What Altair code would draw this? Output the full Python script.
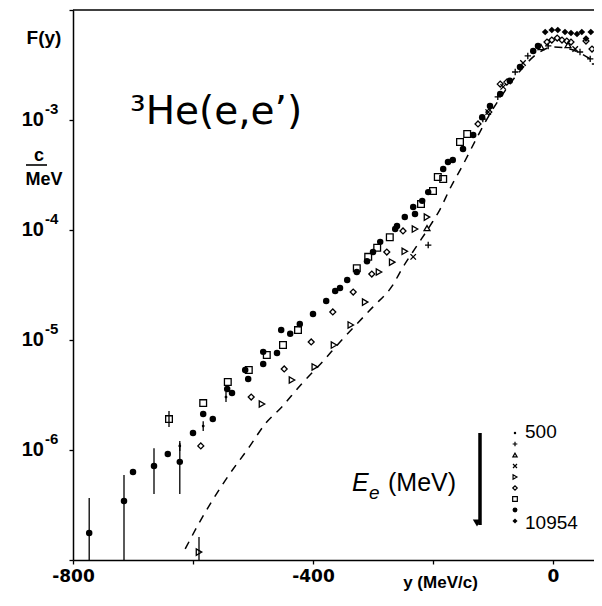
import altair as alt
import pandas as pd

# ---------------- data ----------------
# filled circles
FC_X = [-773, -715, -700, -665, -642, -622, -600, -583, -567, -543, -535, -513, -508, -483, -483,
        -460, -453, -438, -422, -400, -378, -363, -355, -343, -327, -310, -300, -288, -263, -260,
        -247, -233, -230, -218, -208, -183, -175, -167, -150, -133, -118, -105, -88, -72, -55, -33, -25]
FC_Y = [1.76e-7, 3.44e-7, 6.31e-7, 7.16e-7, 9.2e-7, 7.8e-7, 1.43e-6, 2.12e-6, 1.91e-6, 3.59e-6,
        3.30e-6, 5.33e-6, 4.42e-6, 7.8e-6, 6.05e-6, 7.6e-6, 1.23e-5, 1.14e-5, 1.40e-5, 1.72e-5,
        2.26e-5, 2.79e-5, 2.97e-5, 3.51e-5, 4.15e-5, 5.2e-5, 6.3e-5, 7.8e-5, 1.02e-4, 1.09e-4,
        1.31e-4, 1.62e-4, 1.40e-4, 1.84e-4, 2.21e-4, 3.59e-4, 4.15e-4, 4.33e-4, 5.45e-4, 7.31e-4,
        1.06e-3, 1.34e-3, 1.72e-3, 2.27e-3, 3.03e-3, 4.24e-3, 4.71e-3]
# filled diamonds (10954 MeV)
FD_X = [-13, -2, 8, 20, 30, 40, 48, 55, 63, 78]
FD_Y = [6.31e-3, 6.58e-3, 6.58e-3, 6.31e-3, 6.18e-3, 6.05e-3, 6.31e-3, 5.5e-3, 6.31e-3, 7.16e-3]
# open squares
SQ_X = [-640, -583, -542, -507, -477, -450, -425, -327, -308, -293, -272, -220, -200, -192, -183, -155, -143]
SQ_Y = [1.91e-6, 2.67e-6, 4.15e-6, 5.33e-6, 7.3e-6, 9.0e-6, 1.23e-5, 4.5e-5, 5.7e-5, 6.9e-5, 8.6e-5,
        1.72e-4, 2.26e-4, 3.03e-4, 2.91e-4, 6.31e-4, 7.46e-4]
# open diamonds
OD_X = [-587, -503, -448, -403, -367, -333, -302, -277, -250, -125, -107, -88, -77,
        -10, -2, 7, 15, 23, 30, 55, 65, 75]
OD_Y = [1.09e-6, 3.03e-6, 5.45e-6, 9.6e-6, 1.80e-5, 2.73e-5, 3.98e-5, 6.3e-5, 9.8e-5, 9.2e-4, 1.18e-3,
        2.12e-3, 2.21e-3, 5.11e-3, 5.33e-3, 5.56e-3, 5.33e-3, 5.22e-3, 5.11e-3, 5.22e-3, 4.42e-3, 4.15e-3]
# open triangles (pointing right)
TR_X = [-590, -485, -435, -397, -365, -337, -313, -290, -268, -247, -230, -210]
TR_Y = [1.18e-7, 2.62e-6, 4.33e-6, 5.69e-6, 9.0e-6, 1.37e-5, 2.21e-5, 4.15e-5, 5.1e-5, 6.4e-5, 1.02e-4, 1.31e-4]
# crosses (x)
XX_X = [-233, -108, -83, -50, 37]
XX_Y = [5.7e-5, 1.18e-3, 2.0e-3, 3.3e-3, 4.42e-3]
# plus signs
PL_X = [-208, -117, -92, -63, -42, -8, 45, 62, 70, 77]
PL_Y = [7.3e-5, 1.02e-3, 1.62e-3, 2.73e-3, 3.82e-3, 4.71e-3, 4.15e-3, 3.59e-3, 3.23e-3, 2.67e-3]
# open triangles (pointing up)
TU_X = [-210, -20, 25]
TU_Y = [1.04e-4, 4.6e-3, 4.8e-3]
# small dots (500 MeV)
SD_X = [-622, -583, -545]
SD_Y = [1.09e-6, 1.65e-6, 3.03e-6]

# error bars
EB_X = [-773, -715, -665, -622, -590, -640, -622, -583, -545]
EB_LO = [1.0e-7, 1.0e-7, 3.98e-7, 3.98e-7, 1.0e-7, 1.62e-6, 0.98e-6, 1.49e-6, 2.73e-6]
EB_HI = [3.66e-7, 5.93e-7, 1.04e-6, 1.16e-6, 1.62e-7, 2.26e-6, 1.21e-6, 1.83e-6, 3.36e-6]

# dashed theoretical curve
CV_X = [-613, -588, -547, -505, -480, -452, -422, -383, -355, -327, -300, -268, -250, -227, -205,
        -188, -172, -152, -128, -105, -80, -55, -27, 0, 28, 62]
CV_Y = [1.26e-7, 2.26e-7, 5.22e-7, 1.09e-6, 1.72e-6, 2.46e-6, 3.82e-6, 6.44e-6, 9.6e-6, 1.40e-5,
        2.0e-5, 3.10e-5, 4.61e-5, 7.16e-5, 1.09e-4, 1.55e-4, 2.36e-4, 3.74e-4, 6.71e-4, 1.14e-3,
        1.84e-3, 2.79e-3, 3.98e-3, 4.61e-3, 4.42e-3, 3.59e-3]

X_TICKS = [-800, -600, -400, -200, 0]
Y_TICKS = [1e-7, 1e-6, 1e-5, 1e-4, 1e-3, 1e-2]
Y_LAB_VALS = [1e-3, 1e-4, 1e-5, 1e-6]
Y_LAB_EXP = ["-3", "-4", "-5", "-6"]

# ---------------- chart ----------------
W, H = 521, 550
xs = alt.Scale(domain=[-800, 68.33], nice=False, zero=False)
ys = alt.Scale(type="log", domain=[1e-7, 1e-2], nice=False)

PLUS = "M-1,0L1,0M0,-1L0,1"
TIMES = "M-1,-1L1,1M-1,1L1,-1"
BOLD = "Liberation Sans"

x_axis = alt.Axis(values=X_TICKS, grid=False, domainColor="black", domainWidth=1.5,
                  tickColor="black", tickWidth=1.3, tickSize=4, labelFlush=False,
                  labelExpr="datum.value == -600 || datum.value == -200 ? '' : (datum.value < 0 ? '-' + abs(datum.value) : '' + datum.value)",
                  labelFont="DejaVu Sans", labelFontWeight="bold", labelFontSize=17, labelColor="black",
                  labelPadding=4, title="y   (MeV/c)", titleFont=BOLD, titleFontWeight="bold",
                  titleFontSize=17, titleColor="black", titleX=367, titleY=22,
                  titleBaseline="middle", titleAlign="center")
y_axis = alt.Axis(values=Y_TICKS, grid=False, labels=False, title=None, domainColor="black",
                  domainWidth=1.5, tickColor="black", tickWidth=1.3, tickSize=4)


def X(field):
    return alt.X(field, scale=xs, axis=x_axis)


def Y(field):
    return alt.Y(field, scale=ys, axis=y_axis)


def pts(xv, yv, shape, filled, size, sw=1.3):
    df = pd.DataFrame({"x": xv, "y": yv})
    return alt.Chart(df).mark_point(shape=shape, filled=filled, size=size, color="black",
                                    strokeWidth=sw, opacity=1, clip=True).encode(x=X("x:Q"), y=Y("y:Q"))


def txt(s, x, y, size, font="Liberation Sans", weight="normal", align="left", style="normal", baseline="middle"):
    return alt.Chart(pd.DataFrame({"t": [s]})).mark_text(
        font=font, fontSize=size, fontWeight=weight, align=align, baseline=baseline,
        fontStyle=style, color="black").encode(x=alt.value(x), y=alt.value(y), text="t:N")


def glyph(shape, filled, size, x, y, sw=1.2):
    return alt.Chart(pd.DataFrame({"a": [0]})).mark_point(
        shape=shape, filled=filled, size=size, color="black", strokeWidth=sw, opacity=1).encode(
        x=alt.value(x), y=alt.value(y))


curve = alt.Chart(pd.DataFrame({"x": CV_X, "y": CV_Y})).mark_line(
    color="black", strokeWidth=1.5, strokeDash=[8, 7], interpolate="monotone", clip=True).encode(
    x=X("x:Q"), y=Y("y:Q"))

errs = alt.Chart(pd.DataFrame({"x": EB_X, "lo": EB_LO, "hi": EB_HI})).mark_rule(
    color="black", strokeWidth=1.3).encode(x=X("x:Q"), y=Y("lo:Q"), y2="hi:Q")

top = alt.Chart(pd.DataFrame({"x": [-800], "y": [1e-2]})).mark_rule(color="black", strokeWidth=1.5).encode(
    y=Y("y:Q"), x=X("x:Q"), x2=alt.value(W))

ylab_df = pd.DataFrame({"y": Y_LAB_VALS, "b": ["10"] * 4, "e": Y_LAB_EXP})
ylab_base = alt.Chart(ylab_df).mark_text(font=BOLD, fontWeight="bold", fontSize=20, align="right",
                                         baseline="middle", color="black").encode(
    x=alt.value(-29), y=Y("y:Q"), text="b:N")
ylab_exp = alt.Chart(ylab_df).mark_text(font=BOLD, fontWeight="bold", fontSize=15, align="left",
                                        baseline="middle", dy=-11, color="black").encode(
    x=alt.value(-28), y=Y("y:Q"), text="e:N")

layers = [
    curve, top, errs,
    pts(SD_X, SD_Y, "circle", True, 8),
    pts(PL_X, PL_Y, PLUS, False, 40),
    pts(TU_X, TU_Y, "triangle-up", False, 35),
    pts(XX_X, XX_Y, TIMES, False, 30),
    pts(TR_X, TR_Y, "triangle-right", False, 40),
    pts(OD_X, OD_Y, "diamond", False, 35),
    pts(SQ_X, SQ_Y, "square", False, 45),
    pts(FC_X, FC_Y, "circle", True, 42),
    pts(FD_X, FD_Y, "diamond", True, 45),
    ylab_base, ylab_exp,
    txt("F(y)", -29, 28, 19, font=BOLD, weight="bold", align="center"),
    txt("c", -34, 146, 18, font=BOLD, weight="bold", align="center"),
    alt.Chart(pd.DataFrame({"a": [0]})).mark_rule(color="black", strokeWidth=1.6).encode(
        x=alt.value(-47), x2=alt.value(-26), y=alt.value(155)),
    txt("MeV", -29, 170, 18, font=BOLD, weight="bold", align="center"),
    txt("³He(e,e’)", 57, 102, 39, font="DejaVu Sans"),
    # energy arrow and legend
    alt.Chart(pd.DataFrame({"a": [0]})).mark_rule(color="black", strokeWidth=3.5).encode(
        x=alt.value(407), y=alt.value(423), y2=alt.value(515)),
    glyph("triangle-down", True, 70, 404, 513),
    txt("E", 279, 473, 25, style="italic"),
    txt("e", 296, 483, 19, style="italic"),
    txt("(MeV)", 315, 473, 25),
    glyph("circle", True, 6, 442, 423),
    glyph(PLUS, False, 22, 442, 434),
    glyph("triangle-up", False, 18, 442, 445),
    glyph(TIMES, False, 16, 442, 456),
    glyph("triangle-right", False, 20, 442, 467),
    glyph("diamond", False, 20, 442, 478),
    glyph("square", False, 22, 442, 489),
    glyph("circle", True, 24, 442, 500),
    glyph("diamond", True, 26, 442, 511),
    txt("500", 452, 422, 19),
    txt("10954", 452, 513, 19),
]

chart = alt.layer(*layers).properties(
    width=W, height=H,
    autosize=alt.AutoSizeParams(type="none"),
    padding={"left": 65, "top": 2, "right": 0, "bottom": 34},
).configure_view(stroke=None)

chart.save("out.html", embed_options={"renderer": "svg", "actions": False})
